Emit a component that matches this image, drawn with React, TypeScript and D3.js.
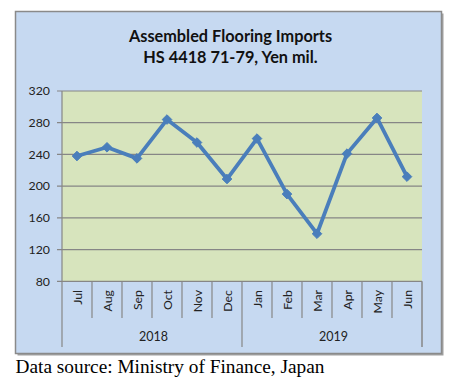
import React from "react";
import * as d3 from "d3";

const months = ["Jul", "Aug", "Sep", "Oct", "Nov", "Dec", "Jan", "Feb", "Mar", "Apr", "May", "Jun"];
const years = ["2018", "2019"];
const imports = [238, 249, 235, 284, 255, 209, 260, 190, 140, 241, 286, 212];
const yTicks = [80, 120, 160, 200, 240, 280, 320];
const titleLines = ["Assembled Flooring Imports", "HS 4418 71-79, Yen mil."];
const sourceNote = "Data source: Ministry of Finance, Japan";

export default function App() {
  const W = 459, H = 388;
  const box = { x: 15.5, y: 11.5, w: 426, h: 342 };
  const plot = { l: 62, r: 422, t: 91, b: 281.3 };
  const x = d3.scaleBand().domain(months.map((m, i) => i + "")).range([plot.l, plot.r]).padding(0);
  const y = d3.scaleLinear().domain([80, 320]).range([plot.b, plot.t]);
  const cx = (i: number) => (x(i + "") as number) + x.bandwidth() / 2;
  const line = d3.line<number>().x((d, i) => cx(i)).y(d => y(d));
  const font = "Lato, 'Open Sans', sans-serif";
  const bw = x.bandwidth();
  const diamond = (px: number, py: number, s: number) =>
    `M${px},${py - s}L${px + s},${py}L${px},${py + s}L${px - s},${py}Z`;

  return (
    <svg width={W} height={H} style={{ position: "absolute", left: 0, top: 0, background: "#fff" }}>
      <rect x={box.x + 2} y={box.y + 2} width={box.w} height={box.h} fill="#a0a0a0" />
      <rect x={box.x} y={box.y} width={box.w} height={box.h} fill="#c6d9f1" stroke="#8a8a8a" strokeWidth={1.5} />
      {titleLines.map((t, i) => (
        <text key={i} x={230.5} y={41.5 + i * 21.5} textAnchor="middle" fontFamily={font} fontWeight="bold" fontSize={16.3} fill="#111">
          {t}
        </text>
      ))}
      <rect x={plot.l} y={plot.t} width={plot.r - plot.l} height={plot.b - plot.t} fill="#d7e4bd" />
      {yTicks.map(t => (
        <g key={t}>
          <line x1={plot.l - 5} x2={plot.r} y1={y(t)} y2={y(t)} stroke="#868686" strokeWidth={1.2} />
          <text x={50} y={y(t) + 4.3} textAnchor="end" fontFamily={font} fontSize={12.3} fill="#222">{t}</text>
        </g>
      ))}
      <line x1={plot.l} x2={plot.l} y1={plot.t} y2={plot.b} stroke="#868686" strokeWidth={1.2} />
      {months.map((m, i) => {
        const x0 = x(i + "") as number;
        const boundary = i === 0 || i === 6;
        return (
          <g key={m + i}>
            <line x1={x0} x2={x0} y1={plot.b} y2={boundary ? 347 : 318} stroke="#868686" strokeWidth={1.2} />
            <text transform={`translate(${cx(i) + 4.5},290) rotate(-90)`} textAnchor="end" fontFamily={font} fontSize={12.3} fill="#222">{m}</text>
          </g>
        );
      })}
      <line x1={plot.r} x2={plot.r} y1={plot.b} y2={347} stroke="#868686" strokeWidth={1.5} />
      {years.map((yr, j) => (
        <text key={yr} x={plot.l + bw * 6 * j + bw * 3 + 1.5} y={340.5} textAnchor="middle" fontFamily={font} fontSize={12.5} fill="#222">{yr}</text>
      ))}
      <path d={line(imports) as string} fill="none" stroke="#4a7ebb" strokeWidth={3.8} strokeLinejoin="round" />
      {imports.map((v, i) => (
        <path key={i} d={diamond(cx(i), y(v), 4.8)} fill="#4a7ebb" stroke="#4a7ebb" strokeWidth={1} />
      ))}
      <text x={15.5} y={372.5} fontFamily="'Liberation Serif', 'Times New Roman', serif" fontSize={18} textLength={309} lengthAdjust="spacingAndGlyphs" fill="#000">{sourceNote}</text>
    </svg>
  );
}
